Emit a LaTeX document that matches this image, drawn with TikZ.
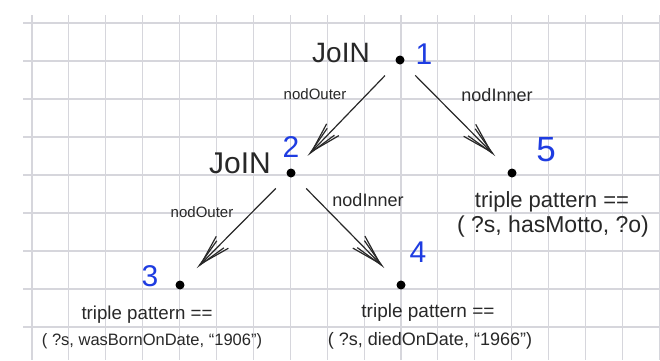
\documentclass[tikz,border=0pt]{standalone}
\usepackage{fontspec}
\setmainfont{Liberation Sans}
\usetikzlibrary{arrows.meta}
\definecolor{gridc}{RGB}{214,214,220}
\definecolor{ink}{RGB}{40,40,40}
\definecolor{numblue}{RGB}{30,60,225}
\begin{document}
\begin{tikzpicture}[x=1pt,y=-1pt,
  gridline/.style={draw=gridc,line width=1.1pt},
  dotnode/.style={circle,fill=black,inner sep=0pt,minimum size=9pt},
  numlbl/.style={text=numblue,font=\fontsize{30}{30}\selectfont,inner sep=0pt},
  joinlbl/.style={text=ink,inner sep=0pt},
  edgelbl/.style={text=ink,inner sep=0pt},
  tpline/.style={text=ink,inner sep=0pt,anchor=base},
  conn/.style={draw=ink,line width=1.2pt,shorten <=17pt,shorten >=19pt,
    -{Straight Barb[length=30pt,width=17pt,sep=-30pt]Straight Barb[length=30pt,width=10pt]}},
]
\useasboundingbox[fill=white] (0,0) rectangle (660,360);
% grid
\foreach \i in {0,...,17} \draw[gridline] (32+36.9*\i,15) -- (32+36.9*\i,360);
\foreach \j in {0,...,8} \draw[gridline] (23,23+38*\j) -- (660,23+38*\j);
% dots
\node[dotnode] (n1) at (400,60) {};
\node[dotnode] (n2) at (291,173) {};
\node[dotnode] (n5) at (512,173) {};
\node[dotnode] (n3) at (180,285) {};
\node[dotnode] (n4) at (401,285) {};
% numbers
\node[numlbl] (k1) at (424,54) {1};
\node[numlbl] (k2) at (291,147) {2};
\node[numlbl,font=\fontsize{35}{35}\selectfont] (k5) at (546,150) {5};
\node[numlbl] (k3) at (150,276) {3};
\node[numlbl] (k4) at (418,252) {4};
% join labels
\node[joinlbl,font=\fontsize{28}{28}\selectfont] (j1) at (341,53) {JoIN};
\node[joinlbl,font=\fontsize{30}{30}\selectfont] (j2) at (240,163) {JoIN};
% connectors
\draw[conn] (n1) -- (n2);
\draw[conn] (n1) -- (n5);
\draw[conn] (n2) -- (n3);
\draw[conn] (n2) -- (n4);
% edge labels
\node[edgelbl,font=\fontsize{15}{15}\selectfont] (e12) at (315,94) {nodOuter};
\node[edgelbl,font=\fontsize{18}{18}\selectfont] (e15) at (497,95) {nodInner};
\node[edgelbl,font=\fontsize{15}{15}\selectfont] (e23) at (202,212) {nodOuter};
\node[edgelbl,font=\fontsize{18}{18}\selectfont] (e24) at (368,200) {nodInner};
% triple patterns
\node[tpline,font=\fontsize{22}{22}\selectfont] (t5a) at (552,207) {triple pattern ==};
\node[tpline,font=\fontsize{23}{23}\selectfont] (t5b) at (553,232) {( ?s, hasMotto, ?o)};
\node[tpline,font=\fontsize{18.7}{18.7}\selectfont] (t3a) at (147,319) {triple pattern ==};
\node[tpline,font=\fontsize{16.5}{16.5}\selectfont] (t3b) at (152,345) {( ?s, wasBornOnDate, “1906”)};
\node[tpline,font=\fontsize{19}{19}\selectfont] (t4a) at (428,317) {triple pattern ==};
\node[tpline,font=\fontsize{18}{18}\selectfont] (t4b) at (430,345) {( ?s, diedOnDate, “1966”)};
\end{tikzpicture}
\end{document}
